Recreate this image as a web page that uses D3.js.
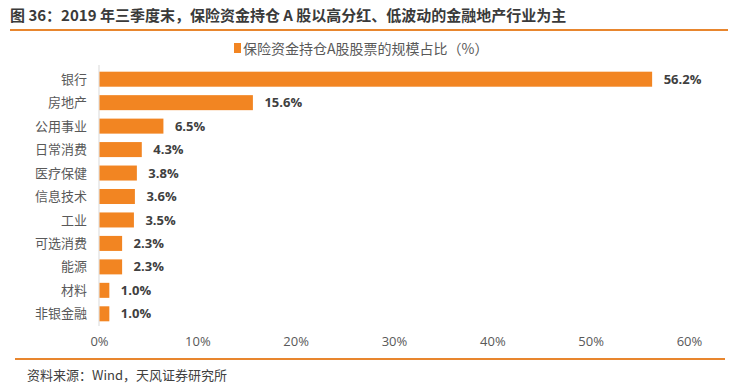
<!DOCTYPE html>
<html>
<head>
<meta charset="utf-8">
<script src="https://cdn.jsdelivr.net/npm/d3@7"></script>
<style>
  body { margin: 0; background: #fff; }
  text { font-family: "Noto Sans CJK SC", "Microsoft YaHei", sans-serif; }
</style>
</head>
<body>
<div id="chart"></div>
<script>
// data
var categories = ["银行", "房地产", "公用事业", "日常消费", "医疗保健", "信息技术", "工业", "可选消费", "能源", "材料", "非银金融"];
var shares = [56.2, 15.6, 6.5, 4.3, 3.8, 3.6, 3.5, 2.3, 2.3, 1.0, 1.0];
var xTicks = [0, 10, 20, 30, 40, 50, 60];

var width = 738;
var height = 385;
var barColor = "#F28522";
var lineColor = "#E8862E";

var svg = d3.select("#chart")
            .append("svg")
            .attr("width", width)
            .attr("height", height);

// title and separators
svg.append("text")
   .attr("x", 10)
   .attr("y", 21)
   .attr("font-size", 15)
   .attr("font-weight", "bold")
   .attr("fill", "#3a3a3a")
   .text("图 36：2019 年三季度末，保险资金持仓 A 股以高分红、低波动的金融地产行业为主");

svg.append("line")
   .attr("x1", 10).attr("x2", 728)
   .attr("y1", 30).attr("y2", 30)
   .attr("stroke", lineColor).attr("stroke-width", 2);

svg.append("line")
   .attr("x1", 15).attr("x2", 725)
   .attr("y1", 359).attr("y2", 359)
   .attr("stroke", lineColor).attr("stroke-width", 2);

svg.append("text")
   .attr("x", 27)
   .attr("y", 380)
   .attr("font-size", 13)
   .attr("fill", "#404040")
   .text("资料来源：Wind，天风证券研究所");

// legend
var legend = svg.append("g").attr("transform", "translate(234,49)");
legend.append("rect")
      .attr("x", 0).attr("y", -6)
      .attr("width", 7).attr("height", 10)
      .attr("fill", barColor);
legend.append("text")
      .attr("x", 9).attr("y", 0)
      .attr("dy", "0.35em")
      .attr("font-size", 14)
      .attr("fill", "#595959")
      .text("保险资金持仓A股股票的规模占比（%）");

// scales
var x = d3.scaleLinear()
          .domain([0, 60])
          .range([99, 689]);

var y = d3.scaleBand()
          .domain(categories)
          .range([67, 326])
          .paddingInner(0.36)
          .paddingOuter(0.2);

// y axis line
svg.append("line")
   .attr("x1", x(0)).attr("x2", x(0))
   .attr("y1", 65).attr("y2", 326)
   .attr("stroke", "#d9d9d9");

// bars
svg.selectAll(".bar")
   .data(categories)
   .enter()
   .append("rect")
   .attr("class", "bar")
   .attr("x", x(0) + 0.5)
   .attr("y", function(d) { return y(d); })
   .attr("width", function(d, i) { return x(shares[i]) - x(0); })
   .attr("height", y.bandwidth())
   .attr("fill", barColor);

// category labels
svg.selectAll(".cat")
   .data(categories)
   .enter()
   .append("text")
   .attr("class", "cat")
   .attr("x", 87)
   .attr("y", function(d) { return y(d) + y.bandwidth() / 2; })
   .attr("dy", "0.35em")
   .attr("text-anchor", "end")
   .attr("font-size", 13)
   .attr("fill", "#595959")
   .text(function(d) { return d; });

// value labels
svg.selectAll(".val")
   .data(categories)
   .enter()
   .append("text")
   .attr("class", "val")
   .attr("x", function(d, i) { return x(shares[i]) + 12; })
   .attr("y", function(d) { return y(d) + y.bandwidth() / 2; })
   .attr("dy", "0.35em")
   .attr("font-size", 13)
   .attr("font-weight", "bold")
   .attr("fill", "#404040")
   .style("font-family", "'Open Sans', 'Noto Sans', sans-serif")
   .text(function(d, i) { return shares[i].toFixed(1) + "%"; });

// x axis
var xAxis = d3.axisBottom(x)
              .tickValues(xTicks)
              .tickSize(0)
              .tickPadding(0)
              .tickFormat(function(d) { return d + "%"; });

var gx = svg.append("g")
            .attr("transform", "translate(0,337)")
            .call(xAxis);
gx.select(".domain").remove();
gx.selectAll("text")
  .attr("font-size", 13)
  .attr("fill", "#595959")
  .style("font-family", "'Open Sans', 'Noto Sans', sans-serif");
</script>
</body>
</html>
